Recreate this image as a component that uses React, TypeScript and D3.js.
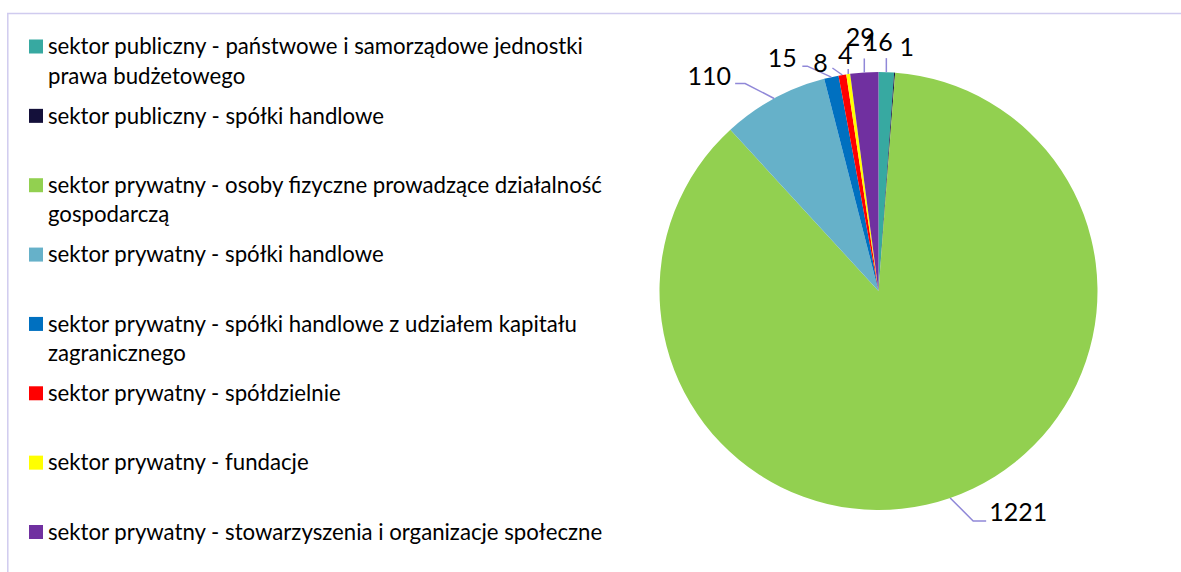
import { useEffect, useRef } from 'react'
import * as d3 from 'd3'

// slice values, clockwise from 12 o'clock
const categories = [
  'sektor publiczny - państwowe i samorządowe jednostki prawa budżetowego',
  'sektor publiczny - spółki handlowe',
  'sektor prywatny - osoby fizyczne prowadzące działalność gospodarczą',
  'sektor prywatny - spółki handlowe',
  'sektor prywatny - spółki handlowe z udziałem kapitału zagranicznego',
  'sektor prywatny - spółdzielnie',
  'sektor prywatny - fundacje',
  'sektor prywatny - stowarzyszenia i organizacje społeczne',
]
const values = [16, 1, 1221, 110, 15, 8, 4, 29]
const colors = ['#37a9a1', '#14103a', '#92d050', '#66b1c9', '#0070c0', '#ff0000', '#ffff00', '#7030a0']
// legend text broken as in the original
const legendLines = [
  ['sektor publiczny - państwowe i samorządowe jednostki', 'prawa budżetowego'],
  ['sektor publiczny - spółki handlowe'],
  ['sektor prywatny - osoby fizyczne prowadzące działalność', 'gospodarczą'],
  ['sektor prywatny - spółki handlowe'],
  ['sektor prywatny - spółki handlowe z udziałem kapitału', 'zagranicznego'],
  ['sektor prywatny - spółdzielnie'],
  ['sektor prywatny - fundacje'],
  ['sektor prywatny - stowarzyszenia i organizacje społeczne'],
]

// hand-placed data labels (offset from slice edge midpoint) and leader elbows
const labelOffset: [number, number][] = [
  [-8, -30], [12, -25], [68, 14], [-65, -22], [-49, -19], [-22, -12], [-3, -19], [-4, -35],
]
const leaderPts: [number, number][][] = [
  [[0, 0], [0, -14]],
  [],
  [[0, 0], [23, 23], [36, 23]],
  [[0, 0], [-29, -15], [-39, -15]],
  [[0, 0], [-24, -11], [-29, -11]],
  [[0, 0], [-10, -7]],
  [[0, 0], [0, -5]],
  [[0, 0], [0, -14]],
]

export default function App() {
  const svgRef = useRef<SVGSVGElement>(null)

  useEffect(() => {
    document.body.style.margin = '0'
    const W = 1181, H = 572
    const font = 'Lato, "Open Sans", sans-serif'
    const svg = d3.select(svgRef.current)
    svg.selectAll('*').remove()
    svg.attr('width', W).attr('height', H).style('background', '#fff').style('display', 'block')

    // frame (clipped at right/bottom like the source)
    svg.append('line').attr('x1', 7).attr('y1', 13.5).attr('x2', W).attr('y2', 13.5).attr('stroke', '#d0cbef').attr('stroke-width', 1.5)
    svg.append('line').attr('x1', 7.8).attr('y1', 13).attr('x2', 7.8).attr('y2', H).attr('stroke', '#d0cbef').attr('stroke-width', 1.5)

    // legend
    const ly = d3.scalePoint<string>().domain(categories).range([46.5, 532])
    categories.forEach((c, i) => {
      const y = ly(c)!
      svg.append('rect').attr('x', 29).attr('y', y - 7).attr('width', 14).attr('height', 14).attr('fill', colors[i])
      legendLines[i].forEach((t, j) => {
        svg.append('text').attr('x', 48).attr('y', y + j * 29.5).attr('dy', '0.35em')
          .attr('font-family', font).attr('font-size', 22.2).attr('fill', '#000').text(t)
      })
    })

    // pie
    const cx = 878.5, cy = 291, R = 219
    const pie = d3.pie<number>().sort(null).value(d => d)
    const arcs = pie(values)
    const arc = d3.arc<d3.PieArcDatum<number>>().innerRadius(0).outerRadius(R)
    const g = svg.append('g').attr('transform', `translate(${cx},${cy})`)
    g.selectAll('path').data(arcs).join('path').attr('d', arc).attr('fill', (_, i) => colors[i])

    arcs.forEach((a, i) => {
      const mid = (a.startAngle + a.endAngle) / 2
      const ex = R * Math.sin(mid), ey = -R * Math.cos(mid)
      const pts = leaderPts[i]
      if (pts.length) {
        const line = d3.line<[number, number]>().x(p => ex + p[0]).y(p => ey + p[1])
        g.append('path').attr('d', line(pts)).attr('fill', 'none').attr('stroke', '#9088d8').attr('stroke-width', 1.5)
      }
      const [dx, dy] = labelOffset[i]
      g.append('text').attr('x', ex + dx).attr('y', ey + dy).attr('dy', '0.35em').attr('text-anchor', 'middle')
        .attr('font-family', font).attr('font-size', 25).attr('fill', '#000').text(values[i])
    })
  }, [])

  return <svg ref={svgRef} />
}
